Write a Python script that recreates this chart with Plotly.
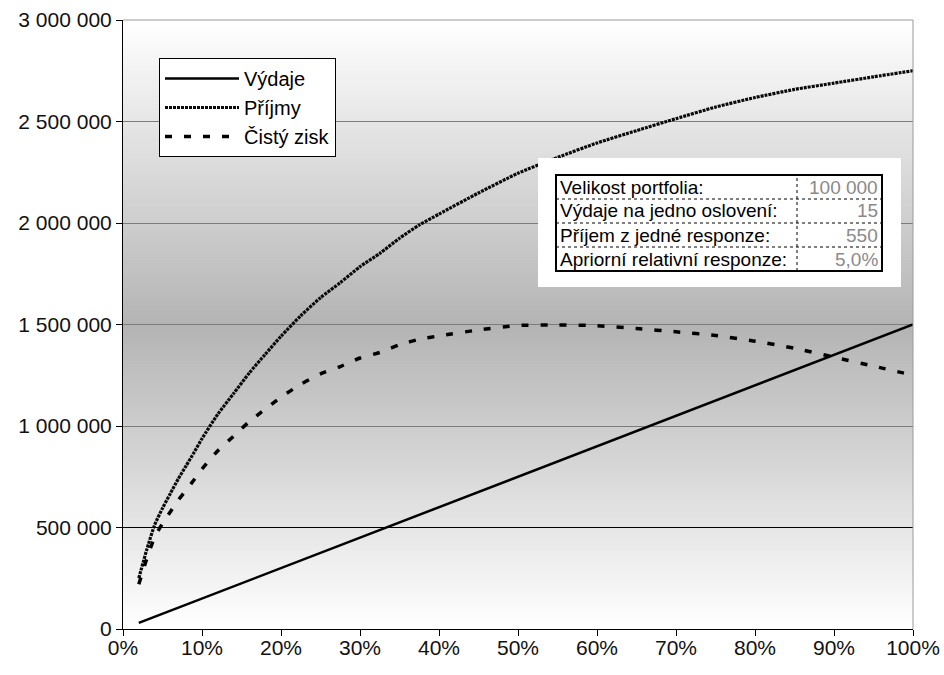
import plotly.graph_objects as go

# Podíl oslovených klientů (osa x)
podil = [0.02, 0.03, 0.04, 0.05, 0.06, 0.07, 0.08, 0.09, 0.10, 0.12, 0.14, 0.16,
         0.18, 0.20, 0.225, 0.25, 0.275, 0.30, 0.325, 0.35, 0.375, 0.40, 0.45,
         0.50, 0.55, 0.60, 0.65, 0.70, 0.75, 0.80, 0.85, 0.90, 0.95, 1.00]

vydaje = [30000, 45000, 60000, 75000, 90000, 105000, 120000, 135000, 150000,
          180000, 210000, 240000, 270000, 300000, 337500, 375000, 412500, 450000,
          487500, 525000, 562500, 600000, 675000, 750000, 825000, 900000, 975000,
          1050000, 1125000, 1200000, 1275000, 1350000, 1425000, 1500000]

prijmy = [250000, 390000, 512000, 595000, 668000, 740000, 805000, 870000, 938000,
          1058000, 1160000, 1262000, 1353000, 1442000, 1543000, 1632000, 1706000,
          1785000, 1850000, 1925000, 1990000, 2044000, 2148000, 2245000, 2323000,
          2394000, 2455000, 2514000, 2571000, 2618000, 2658000, 2689000, 2720000,
          2750000]

zisk = [220000, 345000, 452000, 520000, 578000, 635000, 685000, 735000, 788000,
        878000, 950000, 1022000, 1083000, 1142000, 1205000, 1257000, 1293000,
        1335000, 1362000, 1400000, 1427000, 1444000, 1473000, 1495000, 1498000,
        1494000, 1480000, 1464000, 1446000, 1418000, 1383000, 1339000, 1295000,
        1250000]

y_ticks = [0, 500000, 1000000, 1500000, 2000000, 2500000, 3000000]
x_ticks = [0, 0.1, 0.2, 0.3, 0.4, 0.5, 0.6, 0.7, 0.8, 0.9, 1.0]

param_labels = ["Velikost portfolia:", "Výdaje na jedno oslovení:",
                "Příjem z jedné responze:", "Apriorní relativní responze:"]
param_values = ["100 000", "15", "550", "5,0%"]

FONT = "Liberation Sans, Arial, sans-serif"
W, H = 944, 675
L, R, T, B = 123, 31, 20, 46
PW, PH = W - L - R, H - T - B


def px_x(px):
    return (px - L) / PW


def px_y(py):
    return (H - B - py) / PH


fig = go.Figure()

fig.add_trace(go.Scatter(x=podil, y=vydaje, name="Výdaje", mode="lines",
                         line=dict(color="black", width=2.5)))
fig.add_trace(go.Scatter(x=podil, y=prijmy, name="Příjmy", mode="lines",
                         line=dict(color="#0a0a0a", width=3.2, dash="3px,1px",
                                   shape="spline", smoothing=0.6)))
fig.add_trace(go.Scatter(x=podil, y=zisk, name="Čistý zisk", mode="lines",
                         line=dict(color="black", width=3.5, dash="7px,12px",
                                   shape="spline", smoothing=0.6)))

shapes = []
# vertical gradient of the plot area: white at edges, gray in the middle
N = 160
for i in range(N):
    c = (i + 0.5) / N
    t = abs(c - 0.5) / 0.5
    g = int(round(180 + 75 * t))
    shapes.append(dict(type="rect", xref="x domain", yref="y domain",
                       x0=0, x1=1, y0=i / N - 0.001, y1=(i + 1) / N + 0.001,
                       fillcolor=f"rgb({g},{g},{g})", line=dict(width=0),
                       layer="below"))

# dark line at 500 000
shapes.append(dict(type="line", xref="x domain", yref="y", x0=0, x1=1,
                   y0=500000, y1=500000, line=dict(color="black", width=1)))
# top and right frame of the plot area
shapes.append(dict(type="line", xref="x domain", yref="y domain", x0=0, x1=1,
                   y0=1, y1=1, line=dict(color="#9a9a9a", width=1)))
shapes.append(dict(type="line", xref="x domain", yref="y domain", x0=1, x1=1,
                   y0=0, y1=1, line=dict(color="#9a9a9a", width=1)))

# parameter table
tb_left, tb_right, tb_top, tb_bottom = 556, 882, 175, 271
col_x = 797
row_h = (tb_bottom - tb_top) / len(param_labels)
shapes.append(dict(type="rect", xref="paper", yref="paper",
                   x0=px_x(538), x1=px_x(901), y0=px_y(287), y1=px_y(158),
                   fillcolor="white", line=dict(width=0)))
for k in range(1, len(param_labels)):
    yy = tb_top + k * row_h
    shapes.append(dict(type="line", xref="paper", yref="paper",
                       x0=px_x(tb_left), x1=px_x(tb_right), y0=px_y(yy), y1=px_y(yy),
                       line=dict(color="black", width=1, dash="dot")))
shapes.append(dict(type="line", xref="paper", yref="paper",
                   x0=px_x(col_x), x1=px_x(col_x), y0=px_y(tb_bottom), y1=px_y(tb_top),
                   line=dict(color="black", width=1, dash="dot")))
shapes.append(dict(type="rect", xref="paper", yref="paper",
                   x0=px_x(tb_left), x1=px_x(tb_right), y0=px_y(tb_bottom), y1=px_y(tb_top),
                   line=dict(color="black", width=2)))

annotations = []
for k, (lab, val) in enumerate(zip(param_labels, param_values)):
    yc = tb_top + (k + 0.5) * row_h
    annotations.append(dict(xref="paper", yref="paper", x=px_x(tb_left + 2), y=px_y(yc),
                            text=lab, showarrow=False, xanchor="left", yanchor="middle",
                            font=dict(family=FONT, size=19, color="black")))
    annotations.append(dict(xref="paper", yref="paper", x=px_x(tb_right - 2), y=px_y(yc),
                            text=val, showarrow=False, xanchor="right", yanchor="middle",
                            font=dict(family=FONT, size=19, color="#8a8a8a")))

fig.update_layout(
    width=W, height=H,
    margin=dict(l=L, r=R, t=T, b=B, autoexpand=False),
    paper_bgcolor="white",
    plot_bgcolor="white",
    separators=", ",
    font=dict(family=FONT, color="#111111"),
    shapes=shapes,
    annotations=annotations,
    legend=dict(x=px_x(159), y=px_y(58), xanchor="left", yanchor="top",
                bgcolor="white", bordercolor="black", borderwidth=1,
                font=dict(family=FONT, size=20, color="black"),
                itemwidth=74),
    xaxis=dict(range=[0, 1], tickvals=x_ticks, tickformat=".0%",
               showgrid=False, zeroline=False, showline=True, linecolor="black",
               linewidth=1, ticks="outside", ticklen=6, tickcolor="black",
               ticklabelstandoff=-6, automargin=False,
               tickfont=dict(family=FONT, size=21, color="#111111")),
    yaxis=dict(range=[0, 3000000], tickvals=y_ticks, tickformat=",d",
               showgrid=True, gridcolor="#7c7c7c", gridwidth=1,
               zeroline=False, showline=True, linecolor="black", linewidth=1,
               ticks="outside", ticklen=6, tickcolor="black", automargin=False,
               tickfont=dict(family=FONT, size=21, color="#111111")),
)

fig.write_html("out.html")
